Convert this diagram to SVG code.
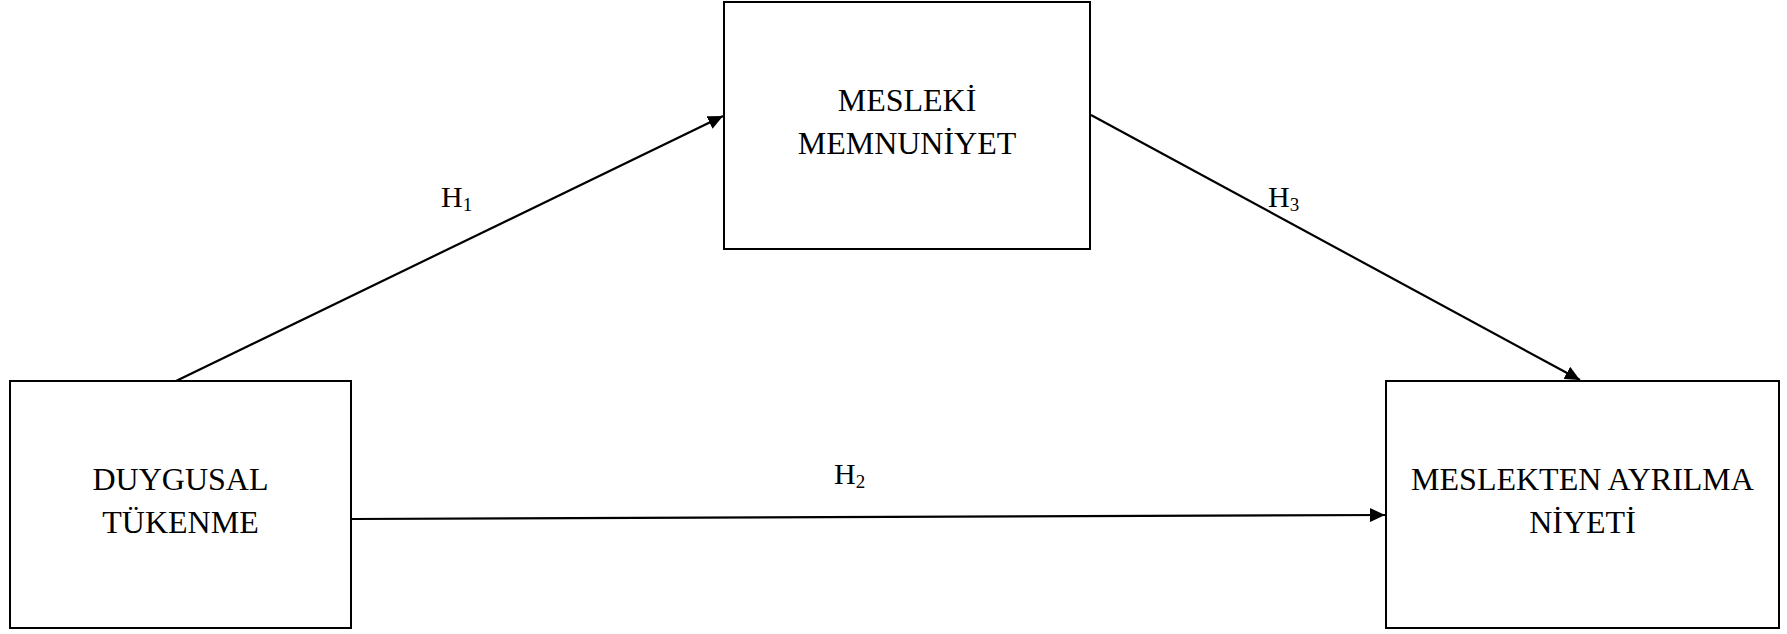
<svg xmlns="http://www.w3.org/2000/svg" width="1787" height="634" viewBox="0 0 1787 634">
<style>
.box{fill:#fff;stroke:#000;stroke-width:2}
.t{font-family:"Liberation Serif","Times New Roman",serif;font-size:32px;fill:#000;text-anchor:middle}
.h{font-family:"Liberation Serif","Times New Roman",serif;font-size:30px;fill:#000}
.sub{font-size:19px}
.c{stroke:#000;stroke-width:2.2;fill:none;marker-end:url(#ah)}
</style>
<defs>
<marker id="ah" markerUnits="userSpaceOnUse" markerWidth="15" markerHeight="14" refX="15" refY="7" orient="auto">
<path d="M0,0 L15,7 L0,14 z" fill="#000"/>
</marker>
</defs>
<rect width="1787" height="634" fill="#fff"/>
<g id="connectors">
<line class="c" x1="176" y1="381" x2="723" y2="116"/>
<line class="c" x1="352" y1="519" x2="1385" y2="515"/>
<line class="c" x1="1091" y1="115" x2="1580" y2="380"/>
<text class="h" x="441" y="207">H<tspan class="sub" dy="4">1</tspan></text>
<text class="h" x="834" y="484">H<tspan class="sub" dy="4">2</tspan></text>
<text class="h" x="1268" y="207">H<tspan class="sub" dy="4">3</tspan></text>
</g>
<g id="node-memnuniyet">
<rect class="box" x="724" y="2" width="366" height="247"/>
<text class="t" x="907" y="111">MESLEKİ</text>
<text class="t" x="907" y="154">MEMNUNİYET</text>
</g>
<g id="node-tukenme">
<rect class="box" x="10" y="381" width="341" height="247"/>
<text class="t" x="180.5" y="490">DUYGUSAL</text>
<text class="t" x="180.5" y="533">TÜKENME</text>
</g>
<g id="node-ayrilma">
<rect class="box" x="1386" y="381" width="393" height="247"/>
<text class="t" x="1582.5" y="490">MESLEKTEN AYRILMA</text>
<text class="t" x="1582.5" y="533">NİYETİ</text>
</g>
</svg>
